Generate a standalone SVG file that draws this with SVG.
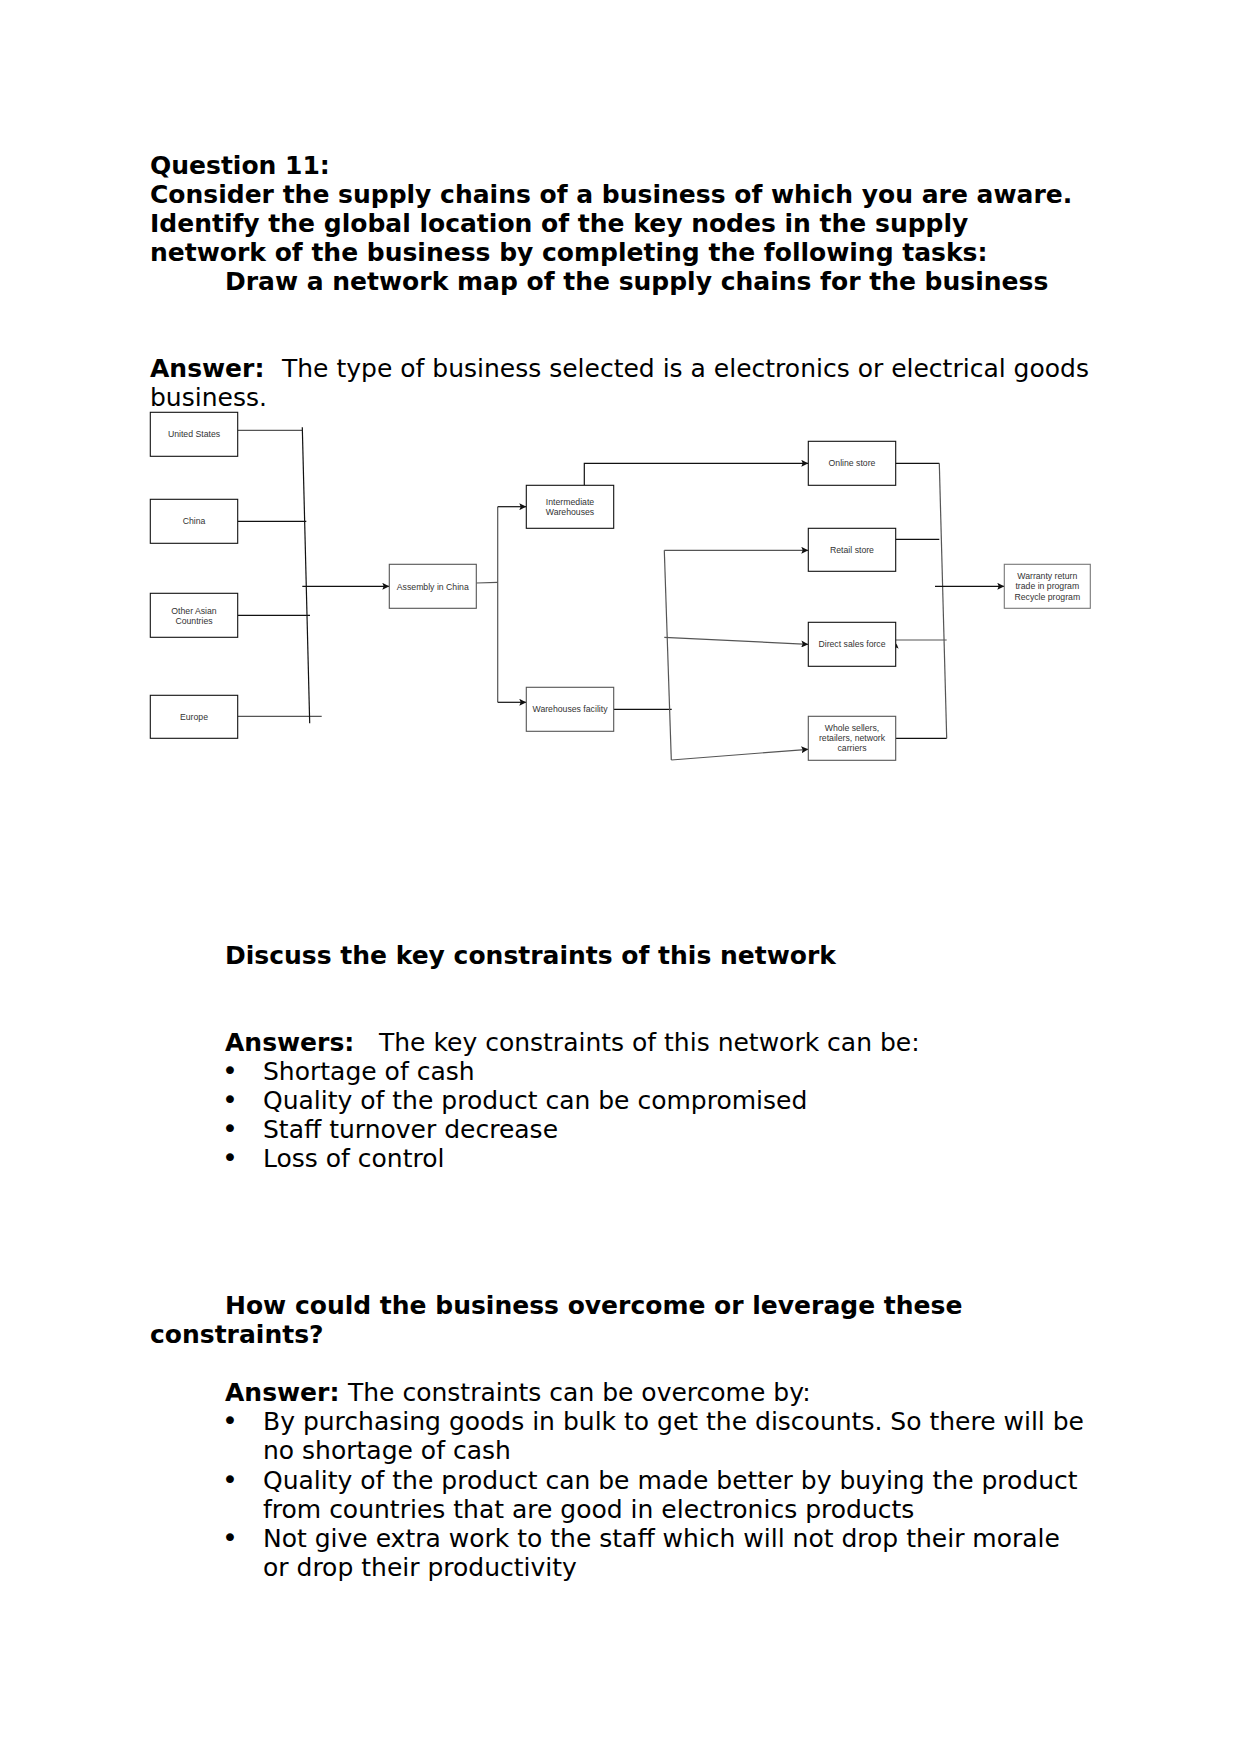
<svg xmlns="http://www.w3.org/2000/svg" width="1241" height="1754" viewBox="0 0 1241 1754">
<style>
.t{font-family:"DejaVu Sans","Liberation Sans",sans-serif;font-size:25px;fill:#000}
.b{font-weight:bold}
.u{font-size:27px}
.n rect{fill:#fff;stroke:#111;stroke-width:1.1}
.n text{font-family:"Liberation Sans",Arial,sans-serif;font-size:8.7px;fill:#333;text-anchor:middle}
.c{fill:none;stroke:#111;stroke-width:1.2}
.g{stroke:#555}
</style>
<defs>
<marker id="ah" viewBox="0 0 10 10" refX="10" refY="5" markerWidth="7" markerHeight="7" markerUnits="userSpaceOnUse" orient="auto">
<path d="M0,0 L10,5 L0,10 L2,5 Z" fill="#111"/>
</marker>
</defs>
<rect width="1241" height="1754" fill="#fff"/>

<g id="question">
<text class="t b" x="150" y="174">Question 11:</text>
<text class="t b" x="150" y="203">Consider the supply chains of a business of which you are aware.</text>
<text class="t b" x="150" y="232">Identify the global location of the key nodes in the supply</text>
<text class="t b" x="150" y="261">network of the business by completing the following tasks:</text>
<text class="t b" x="225" y="290">Draw a network map of the supply chains for the business</text>
<text class="t" y="377"><tspan class="b" x="150">Answer:</tspan><tspan x="282">The type of business selected is a electronics or electrical goods</tspan></text>
<text class="t" x="150" y="406">business.</text>
</g>

<g id="connectors">
<line class="c g" x1="238" y1="430.3" x2="302.3" y2="430.3"/>
<line class="c" x1="238" y1="521.3" x2="306.3" y2="521.3"/>
<line class="c" x1="238" y1="615.3" x2="310" y2="615.3"/>
<line class="c g" x1="238" y1="716.3" x2="321.7" y2="716.3"/>
<line class="c" x1="302.3" y1="427.3" x2="309.7" y2="723.3"/>
<line class="c" x1="302.3" y1="586.3" x2="389.3" y2="586.3" marker-end="url(#ah)"/>
<polyline class="c g" points="476.3,583 497.7,582.3"/>
<line class="c g" x1="497.7" y1="506.7" x2="497.7" y2="702.3"/>
<line class="c" x1="497.7" y1="506.7" x2="526.3" y2="506.7" marker-end="url(#ah)"/>
<line class="c" x1="497.7" y1="702.3" x2="526.3" y2="702.3" marker-end="url(#ah)"/>
<polyline class="c" points="584.3,485.3 584.3,463.3 808.3,463.3" marker-end="url(#ah)"/>
<line class="c" x1="613.7" y1="709.3" x2="671.7" y2="709.3"/>
<line class="c g" x1="664.3" y1="550.3" x2="671.3" y2="760"/>
<line class="c g" x1="664.3" y1="550.3" x2="808.3" y2="550.3" marker-end="url(#ah)"/>
<line class="c g" x1="664.3" y1="637.3" x2="808.3" y2="644.3" marker-end="url(#ah)"/>
<line class="c g" x1="671.3" y1="760" x2="808.3" y2="749.3" marker-end="url(#ah)"/>
<line class="c" x1="895.7" y1="463.3" x2="939.3" y2="463.3"/>
<line class="c" x1="895.7" y1="539.3" x2="939.3" y2="539.3"/>
<line class="c g" x1="895.7" y1="640" x2="946.7" y2="640"/>
<line class="c" x1="895.7" y1="738.3" x2="946.7" y2="738.3"/>
<line class="c g" x1="939.3" y1="463.3" x2="946.7" y2="738.3"/>
<line class="c" x1="935" y1="586.3" x2="1004.3" y2="586.3" marker-end="url(#ah)"/>
<path d="M896.5,643.5 L898.6,648.8 L896.6,647.6 L894.6,648.8 Z" fill="#111"/>
</g>

<g id="node-us" class="n"><rect x="150.3" y="412.3" width="87.4" height="44"/><text x="194" y="437">United States</text></g>
<g id="node-china" class="n"><rect x="150.3" y="499.3" width="87.4" height="44"/><text x="194" y="524">China</text></g>
<g id="node-asia" class="n"><rect x="150.3" y="593.3" width="87.4" height="44"/><text x="194" y="613.7">Other Asian</text><text x="194" y="623.7">Countries</text></g>
<g id="node-europe" class="n"><rect x="150.3" y="695.3" width="87.4" height="43"/><text x="194" y="719.7">Europe</text></g>
<g id="node-assembly" class="n"><rect x="389.3" y="564.3" width="87" height="44" style="stroke:#555"/><text x="432.8" y="589.7">Assembly in China</text></g>
<g id="node-intermediate" class="n"><rect x="526.3" y="485.3" width="87.4" height="43"/><text x="570" y="504.7">Intermediate</text><text x="570" y="514.7">Warehouses</text></g>
<g id="node-warehouses" class="n"><rect x="526.3" y="687.3" width="87.4" height="44" style="stroke:#555"/><text x="570" y="712.3">Warehouses facility</text></g>
<g id="node-online" class="n"><rect x="808.3" y="441.3" width="87.4" height="44"/><text x="852" y="466.3">Online store</text></g>
<g id="node-retail" class="n"><rect x="808.3" y="528.3" width="87.4" height="43"/><text x="852" y="553.3">Retail store</text></g>
<g id="node-direct" class="n"><rect x="808.3" y="622.3" width="87.4" height="44"/><text x="852" y="647.3">Direct sales force</text></g>
<g id="node-whole" class="n"><rect x="808.3" y="716.3" width="87.4" height="44" style="stroke:#555"/><text x="852" y="731.3">Whole sellers,</text><text x="852" y="741.3">retailers, network</text><text x="852" y="751.3">carriers</text></g>
<g id="node-warranty" class="n"><rect x="1004.3" y="564.3" width="86" height="44" style="stroke:#777"/><text x="1047.3" y="578.7">Warranty return</text><text x="1047.3" y="589.3">trade in program</text><text x="1047.3" y="599.7">Recycle program</text></g>

<g id="constraints">
<text class="t b" x="225" y="964">Discuss the key constraints of this network</text>
<text class="t" y="1051"><tspan class="b" x="225">Answers:</tspan><tspan x="379">The key constraints of this network can be:</tspan></text>
<text class="t u" x="222" y="1080">•</text><text class="t" x="263" y="1080">Shortage of cash</text>
<text class="t u" x="222" y="1109">•</text><text class="t" x="263" y="1109">Quality of the product can be compromised</text>
<text class="t u" x="222" y="1138">•</text><text class="t" x="263" y="1138">Staff turnover decrease</text>
<text class="t u" x="222" y="1167">•</text><text class="t" x="263" y="1167">Loss of control</text>
</g>

<g id="overcome">
<text class="t b" x="225" y="1314">How could the business overcome or leverage these</text>
<text class="t b" x="150" y="1343">constraints?</text>
<text class="t" y="1401"><tspan class="b" x="225">Answer:</tspan><tspan x="348">The constraints can be overcome by:</tspan></text>
<text class="t u" x="222" y="1430">•</text><text class="t" x="263" y="1430">By purchasing goods in bulk to get the discounts. So there will be</text>
<text class="t" x="263" y="1459">no shortage of cash</text>
<text class="t u" x="222" y="1489">•</text><text class="t" x="263" y="1489">Quality of the product can be made better by buying the product</text>
<text class="t" x="263" y="1518">from countries that are good in electronics products</text>
<text class="t u" x="222" y="1547">•</text><text class="t" x="263" y="1547">Not give extra work to the staff which will not drop their morale</text>
<text class="t" x="263" y="1576">or drop their productivity</text>
</g>
</svg>
